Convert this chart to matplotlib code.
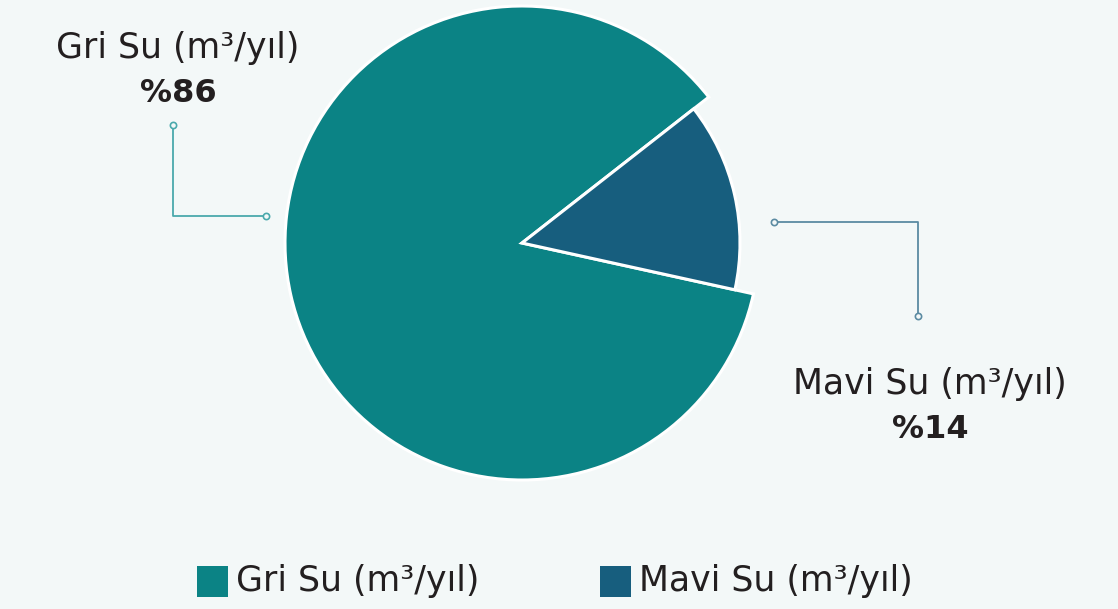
import matplotlib.pyplot as plt
from matplotlib.patches import Rectangle

labels = ["Gri Su (m³/yıl)", "Mavi Su (m³/yıl)"]
shares = [86, 14]
colors = ["#0b8385", "#175e7e"]
line_colors = ["#4aa9ac", "#5b8ba2"]

bg = "#f3f8f8"
text_color = "#231f20"
font = ["DejaVu Sans"]
fs = 25
fs_pct = 23

fig = plt.figure(figsize=(11.18, 6.09), dpi=100, facecolor=bg)
ax = fig.add_axes([0, 0, 1, 1])
ax.set_facecolor(bg)

# pie in pixel-like coordinates (y measured from the bottom)
cx, cy = 522, 366
wedges, _ = ax.pie(shares, colors=colors, center=(cx, cy), radius=237,
                   startangle=38, counterclock=True,
                   wedgeprops=dict(edgecolor="white", linewidth=2.2))
wedges[1].set_radius(218)

# pie() sets its own limits, so fix them afterwards
ax.set_xlim(0, 1118)
ax.set_ylim(0, 609)
ax.set_aspect("equal")
ax.axis("off")

# elbow connectors with small ring ends
def connector(xs, ys, color):
    ax.plot(xs, ys, color=color, lw=1.3, zorder=3)
    ax.plot([xs[0], xs[-1]], [ys[0], ys[-1]], ls="none", marker="o", ms=4.5,
            mfc=bg, mec=color, mew=1.2, zorder=4)

connector([173, 173, 266], [609 - 125, 609 - 216, 609 - 216], line_colors[0])
connector([774, 918, 918], [609 - 222, 609 - 222, 609 - 316], line_colors[1])

ax.text(178, 609 - 48, labels[0], ha="center", va="center", fontsize=fs,
        color=text_color, family=font)
ax.text(178, 609 - 94, f"%{shares[0]}", ha="center", va="center", fontsize=fs_pct,
        fontweight="bold", color=text_color, family=font)
ax.text(930, 609 - 384, labels[1], ha="center", va="center", fontsize=fs,
        color=text_color, family=font)
ax.text(930, 609 - 430, f"%{shares[1]}", ha="center", va="center", fontsize=fs_pct,
        fontweight="bold", color=text_color, family=font)

# legend
for x0, lab, col in zip([197, 600], labels, colors):
    ax.add_patch(Rectangle((x0, 609 - 597), 31, 31, color=col, lw=0))
    ax.text(x0 + 39, 609 - 581, lab, ha="left", va="center", fontsize=fs,
            color=text_color, family=font)

fig.savefig("out.png", dpi=100, facecolor=bg)
